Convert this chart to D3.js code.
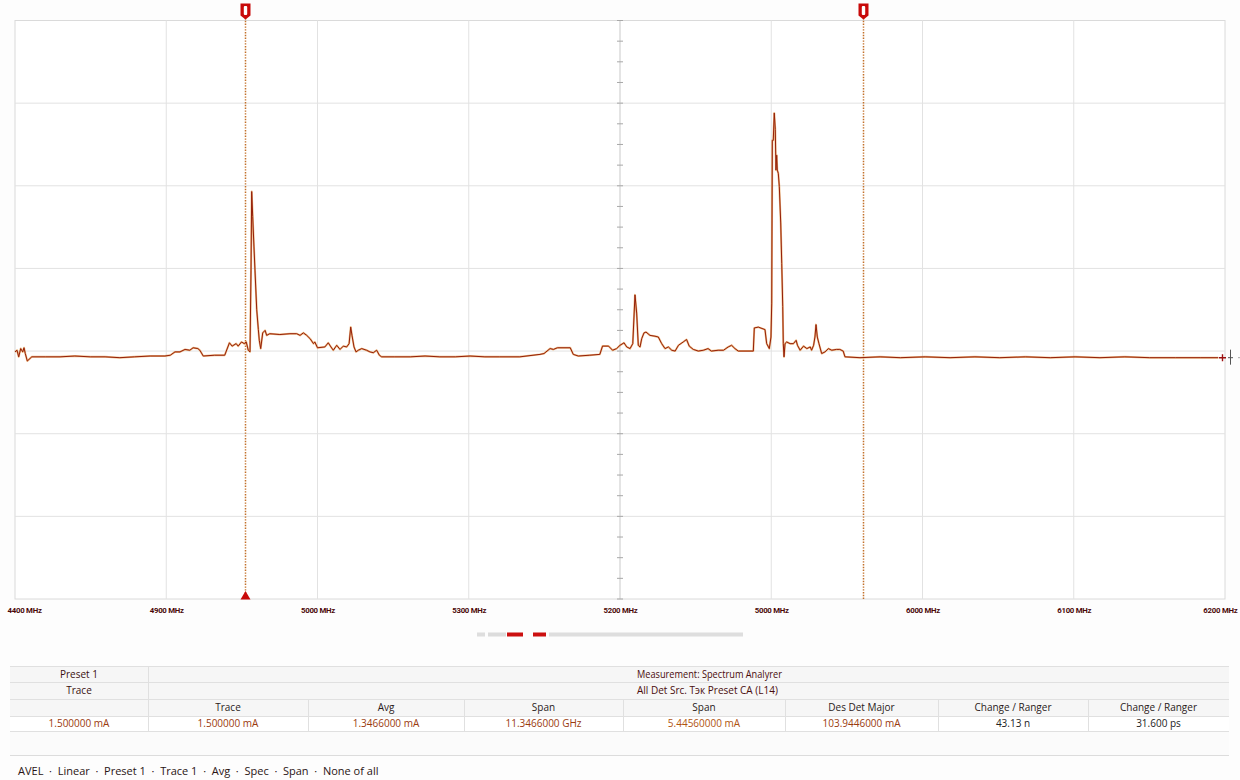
<!DOCTYPE html>
<html>
<head>
<meta charset="utf-8">
<script src="https://cdn.jsdelivr.net/npm/d3@7"></script>
<style>
  html, body { margin: 0; padding: 0; background: #fdfdfd; }
  svg { display: block; }
  .tick-label { font-family: Roboto, "Liberation Sans", sans-serif; font-weight: 700; font-size: 7.8px; fill: #4a0808; letter-spacing: -0.25px; }
  .tbl { font-family: "Open Sans", "Noto Sans", sans-serif; font-size: 10px; }
  .status { white-space: pre; }
</style>
</head>
<body>
<svg id="chart" width="1240" height="780"></svg>
<script>
// Frequency axis: nine tick labels across eight divisions
const tickLabels = ["4400 MHz", "4900 MHz", "5000 MHz", "5300 MHz", "5200 MHz", "5000 MHz", "6000 MHz", "6100 MHz", "6200 MHz"];
const freqStart = 4400, freqStop = 6200;
const levelMin = -100, levelMax = -30, levelStep = 10;

// Marker frequencies (MHz)
const markerFreqs = [4742, 5661];

// Trace sweep: frequency (MHz) and level (dBm)
const traceFreq = [
  4400, 4403, 4405.5, 4408.5, 4411.5, 4413.4, 4415.3, 4418.3, 4425,
  4445, 4467, 4489, 4512, 4534, 4556, 4578, 4601, 4623, 4631,
  4638, 4645.5, 4653, 4660, 4665, 4672, 4675, 4680, 4697, 4712,
  4719, 4723, 4729, 4732, 4737, 4741, 4744, 4747, 4749.6,
  4751.1, 4752.1, 4753.6, 4755.5, 4757, 4759.6, 4762, 4763.4, 4765.5, 4768.5, 4772, 4774.4, 4779,
  4794, 4809, 4819, 4824, 4829, 4834, 4839, 4844, 4846, 4850, 4861, 4866, 4870, 4873.5, 4878.6,
  4883.5, 4888.4, 4893.4, 4897, 4899.4, 4901.3, 4904.3, 4907.3, 4910.7, 4915.8, 4923, 4928, 4933, 4938, 4942, 4945.5,
  4965, 4988, 5010, 5032, 5055, 5077, 5099, 5121, 5151,
  5181, 5187, 5196, 5201, 5207, 5226, 5230.5, 5238, 5255, 5270,
  5274, 5283, 5289, 5295, 5300, 5306, 5310, 5315, 5319,
  5322.3, 5324.8, 5327.2, 5329.8, 5332.3, 5335.7, 5338.7, 5344.6, 5352, 5357, 5362, 5367, 5372, 5377, 5382,
  5387, 5394, 5399, 5403, 5409, 5416.5, 5424, 5431, 5436, 5446, 5454, 5461, 5466, 5471, 5476,
  5498.3, 5499.8, 5505.7, 5515.7, 5518.2, 5522.1, 5524.6, 5525.7,
  5526.6, 5528, 5529.5, 5531, 5532, 5533.1, 5534, 5535.5, 5537, 5539.1, 5540.6, 5542.1, 5542.9, 5544,
  5545.5, 5548, 5553, 5558, 5562, 5564, 5568, 5573, 5578, 5583, 5585, 5588, 5590, 5591.6, 5593.5, 5596,
  5600, 5605, 5610, 5615, 5622, 5627, 5632, 5634.7,
  5657, 5687, 5717, 5754, 5791, 5828, 5865, 5903, 5940, 5977, 6014, 6051, 6088, 6126, 6163, 6190
];
const traceLevel = [
  -70.1, -69.9, -70.7, -69.7, -70.1, -69.6, -70.3, -71.2, -70.7,
  -70.7, -70.7, -70.6, -70.7, -70.7, -70.8, -70.7, -70.6, -70.6, -70.5,
  -70.1, -70.1, -69.8, -69.9, -69.6, -69.7, -69.9, -70.6, -70.5, -70.5,
  -69.0, -69.4, -69.1, -69.4, -68.9, -69.1, -68.9, -69.9, -70.1,
  -60.2, -50.7, -53.7, -57.4, -60.2, -65.0, -67.4, -68.7, -69.7, -67.8, -67.5, -68.1, -67.9,
  -68.0, -67.9, -67.9, -68.1, -67.8, -68.1, -68.5, -69.1, -68.9, -69.6, -69.5, -69.0, -69.5, -69.9, -69.3,
  -69.8, -69.4, -69.5, -69.1, -67.1, -68.1, -69.5, -70.1, -69.9, -69.7, -69.9, -70.1, -70.2, -69.9, -70.5, -70.7,
  -70.7, -70.7, -70.6, -70.7, -70.7, -70.6, -70.7, -70.7, -70.7,
  -70.4, -70.3, -69.7, -69.8, -69.6, -69.6, -70.4, -70.6, -70.5, -70.4,
  -69.4, -69.4, -69.9, -69.7, -69.3, -69.0, -69.5, -69.7, -69.1,
  -63.2, -65.4, -69.3, -69.5, -68.5, -67.8, -67.7, -68.1, -68.2, -68.3, -69.1, -69.7, -69.5, -69.9, -70.0,
  -69.3, -68.9, -68.6, -69.4, -69.8, -70.0, -69.9, -69.7, -70.0, -69.9, -69.9, -69.5, -69.3, -69.7, -70.0,
  -70.0, -67.2, -67.1, -67.4, -69.1, -69.7, -68.3, -64.2,
  -44.5, -44.5, -41.2, -43.2, -48.1, -46.3, -48.1, -48.5, -50.1, -54.5, -59.4, -64.6, -69.1, -70.7,
  -69.1, -68.9, -69.1, -69.1, -68.7, -69.3, -69.9, -69.4, -69.7, -69.5, -69.9, -69.3, -68.3, -66.8, -68.3, -69.1,
  -70.3, -70.1, -69.7, -69.9, -69.8, -69.8, -70.0, -70.7,
  -70.8, -70.7, -70.8, -70.7, -70.8, -70.7, -70.8, -70.7, -70.8, -70.7, -70.8, -70.7, -70.8, -70.8, -70.8, -70.8
];

// Measurement table contents
const tableTitleLeft = ["Preset 1", "Trace"];
const tableTitleRight = ["Measurement: Spectrum Analyrer", "All Det Src. Tэк Preset CA (L14)"];
const tableHeaders = ["", "Trace", "Avg", "Span", "Span", "Des Det Major", "Change / Ranger", "Change / Ranger"];
const tableValues = ["1.500000 mA", "1.500000 mA", "1.3466000 mA", "11.3466000 GHz", "5.44560000 mA", "103.9446000 mA", "43.13 n", "31.600 ps"];
const valueColors = ["#9a3a0e", "#9a3a0e", "#9a3a0e", "#9a3a0e", "#b0540f", "#9a3a0e", "#222", "#222"];
const statusItems = ["AVEL", "Linear", "Preset 1", "Trace 1", "Avg", "Spec", "Span", "None of all"];

const svg = d3.select("#chart");
const plot = { left: 15, right: 1225, top: 20.5, bottom: 599 };

const x = d3.scaleLinear().domain([freqStart, freqStop]).range([plot.left, plot.right]);
const y = d3.scaleLinear().domain([levelMin, levelMax]).range([plot.bottom, plot.top]);

const xTicks = d3.range(tickLabels.length).map(i => freqStart + i * (freqStop - freqStart) / (tickLabels.length - 1));
const yTicks = d3.range(levelMin, levelMax + 0.1, levelStep);

// Plot background and grid
svg.append("rect").attr("x", plot.left).attr("y", plot.top)
  .attr("width", plot.right - plot.left).attr("height", plot.bottom - plot.top)
  .attr("fill", "#ffffff").attr("stroke", "#dadada").attr("stroke-width", 1);

const grid = svg.append("g");
grid.selectAll("line.v").data(xTicks.slice(1, -1)).join("line")
  .attr("x1", d => x(d)).attr("x2", d => x(d))
  .attr("y1", plot.top).attr("y2", plot.bottom)
  .attr("stroke", (d, i) => i === 3 ? "#c9c9c9" : "#e2e2e2").attr("stroke-width", 1);
grid.selectAll("line.h").data(yTicks.slice(1, -1)).join("line")
  .attr("x1", plot.left).attr("x2", plot.right)
  .attr("y1", d => y(d)).attr("y2", d => y(d))
  .attr("stroke", "#e2e2e2").attr("stroke-width", 1);

// Minor ticks on the centre graticule line
const centreFreq = xTicks[4];
const minorLevels = d3.range(levelMin, levelMax + 0.01, levelStep / 4);
grid.selectAll("line.minor").data(minorLevels).join("line")
  .attr("x1", x(centreFreq) - 3).attr("x2", x(centreFreq) + 3)
  .attr("y1", d => y(d)).attr("y2", d => y(d))
  .attr("stroke", "#a8a8a8").attr("stroke-width", 1);

// Frequency axis labels
const xAxis = d3.axisBottom(x).tickValues(xTicks).tickSize(0)
  .tickFormat((d, i) => tickLabels[i]);
const axisG = svg.append("g").attr("transform", `translate(0,${plot.bottom + 5})`).call(xAxis);
axisG.select(".domain").remove();
axisG.selectAll("text").attr("class", "tick-label").attr("dy", "0.71em")
  .attr("text-anchor", (d, i) => i === 0 ? "start" : (i === xTicks.length - 1 ? "end" : "middle"))
  .attr("dx", (d, i) => i === 0 ? -8 : (i === xTicks.length - 1 ? 12 : 0));

// Marker lines and flags
const markers = svg.append("g");
markerFreqs.forEach((f, i) => {
  const mx = Math.round(x(f)) + 0.5;
  markers.append("line").attr("x1", mx).attr("x2", mx)
    .attr("y1", 18).attr("y2", plot.bottom)
    .attr("stroke", "#c2702a").attr("stroke-width", 1.5).attr("stroke-dasharray", "1.4,1.4");
  markers.append("path")
    .attr("d", `M${mx - 5},3.5 h10 v12 l-5,4 l-5,-4 z`)
    .attr("fill", "#c80a0a");
  markers.append("rect").attr("x", mx - 1.7).attr("y", 6).attr("width", 3.4).attr("height", 9)
    .attr("rx", 1).attr("fill", "#ffffff");
  if (i === 0) {
    markers.append("path")
      .attr("d", `M${mx},${plot.bottom - 8} l5,8.5 h-10 z`)
      .attr("fill", "#c80a0a");
  }
});

// Trace
const trace = traceFreq.map((f, i) => ({ f, v: traceLevel[i] }));
const line = d3.line().x(d => x(d.f)).y(d => y(d.v));
svg.append("path").datum(trace).attr("d", line)
  .attr("fill", "none").attr("stroke", "#e39442").attr("stroke-opacity", 0.65)
  .attr("stroke-width", 2).attr("stroke-linejoin", "round");
svg.append("path").datum(trace).attr("d", line)
  .attr("fill", "none").attr("stroke", "#951f08")
  .attr("stroke-width", 1).attr("stroke-linejoin", "round");

// Reference-level indicator at the right edge
const refY = y(traceLevel[traceLevel.length - 1]);
const ind = svg.append("g");
ind.append("path").attr("d", `M1219,${refY} h7 M1222.5,${refY - 3.5} v7`)
  .attr("stroke", "#9b1010").attr("stroke-width", 1.4);
ind.append("path").attr("d", `M1230.5,${refY - 8} v15 M1228,${refY} h5`)
  .attr("stroke", "#555").attr("stroke-width", 1);
ind.append("path").attr("d", `M1238,${refY} h2`).attr("stroke", "#aaa").attr("stroke-width", 1);

// Scroll position bar
const scroll = svg.append("g");
[[477, 485, "#dedede"], [488, 506, "#dcdcdc"], [507, 523, "#cc1010"], [533, 546, "#cc1010"], [549, 743, "#dedede"]]
  .forEach(s => scroll.append("rect").attr("x", s[0]).attr("y", 632.5).attr("width", s[1] - s[0]).attr("height", 4).attr("fill", s[2]));

// Measurement table
const tbl = svg.append("g").attr("class", "tbl");
const colEdges = [10, 148, 308, 464, 623, 785, 938, 1088, 1229];
const rowEdges = [666, 682, 699, 716, 731];

tbl.append("rect").attr("x", colEdges[0]).attr("y", rowEdges[0]).attr("width", colEdges[8] - colEdges[0])
  .attr("height", rowEdges[3] - rowEdges[0]).attr("fill", "#f6f6f6");
tbl.append("rect").attr("x", colEdges[0]).attr("y", rowEdges[3]).attr("width", colEdges[8] - colEdges[0])
  .attr("height", rowEdges[4] - rowEdges[3]).attr("fill", "#ffffff");
tbl.append("rect").attr("x", colEdges[0]).attr("y", rowEdges[4]).attr("width", colEdges[8] - colEdges[0])
  .attr("height", 755 - rowEdges[4]).attr("fill", "#fbfbfb");

rowEdges.forEach(r => tbl.append("line").attr("x1", colEdges[0]).attr("x2", colEdges[8])
  .attr("y1", r + 0.5).attr("y2", r + 0.5).attr("stroke", "#e0e0e0"));
tbl.append("line").attr("x1", colEdges[0]).attr("x2", colEdges[8]).attr("y1", 755.5).attr("y2", 755.5)
  .attr("stroke", "#dcdcdc");
tbl.append("line").attr("x1", colEdges[1] + 0.5).attr("x2", colEdges[1] + 0.5)
  .attr("y1", rowEdges[0]).attr("y2", rowEdges[4]).attr("stroke", "#e0e0e0");
colEdges.slice(2, 8).forEach(c => tbl.append("line").attr("x1", c + 0.5).attr("x2", c + 0.5)
  .attr("y1", rowEdges[2]).attr("y2", rowEdges[4]).attr("stroke", "#e0e0e0"));

const colMid = i => (colEdges[i] + colEdges[i + 1]) / 2;
const rowMid = j => (rowEdges[j] + rowEdges[j + 1]) / 2;

tableTitleLeft.forEach((t, j) => tbl.append("text").attr("x", colMid(0)).attr("y", rowMid(j))
  .attr("dy", "0.35em").attr("text-anchor", "middle").attr("fill", "#3a1010").text(t));
tableTitleRight.forEach((t, j) => tbl.append("text").attr("x", 637).attr("y", rowMid(j))
  .attr("dy", "0.35em").attr("fill", "#4a0c0c").attr("textLength", j === 0 ? 145 : null)
  .attr("lengthAdjust", "spacingAndGlyphs").text(t));
tableHeaders.forEach((t, i) => tbl.append("text").attr("x", colMid(i)).attr("y", rowMid(2))
  .attr("dy", "0.35em").attr("text-anchor", "middle").attr("fill", "#2a1a1a").text(t));
tableValues.forEach((t, i) => tbl.append("text").attr("x", colMid(i)).attr("y", rowMid(3))
  .attr("dy", "0.35em").attr("text-anchor", "middle").attr("fill", valueColors[i]).text(t));

// Status line
svg.append("text").attr("class", "tbl status").attr("x", 18).attr("y", 771).attr("dy", "0.35em")
  .style("font-size", "11px").attr("fill", "#2a1414").text(statusItems.join("  ·  "));
</script>
</body>
</html>
